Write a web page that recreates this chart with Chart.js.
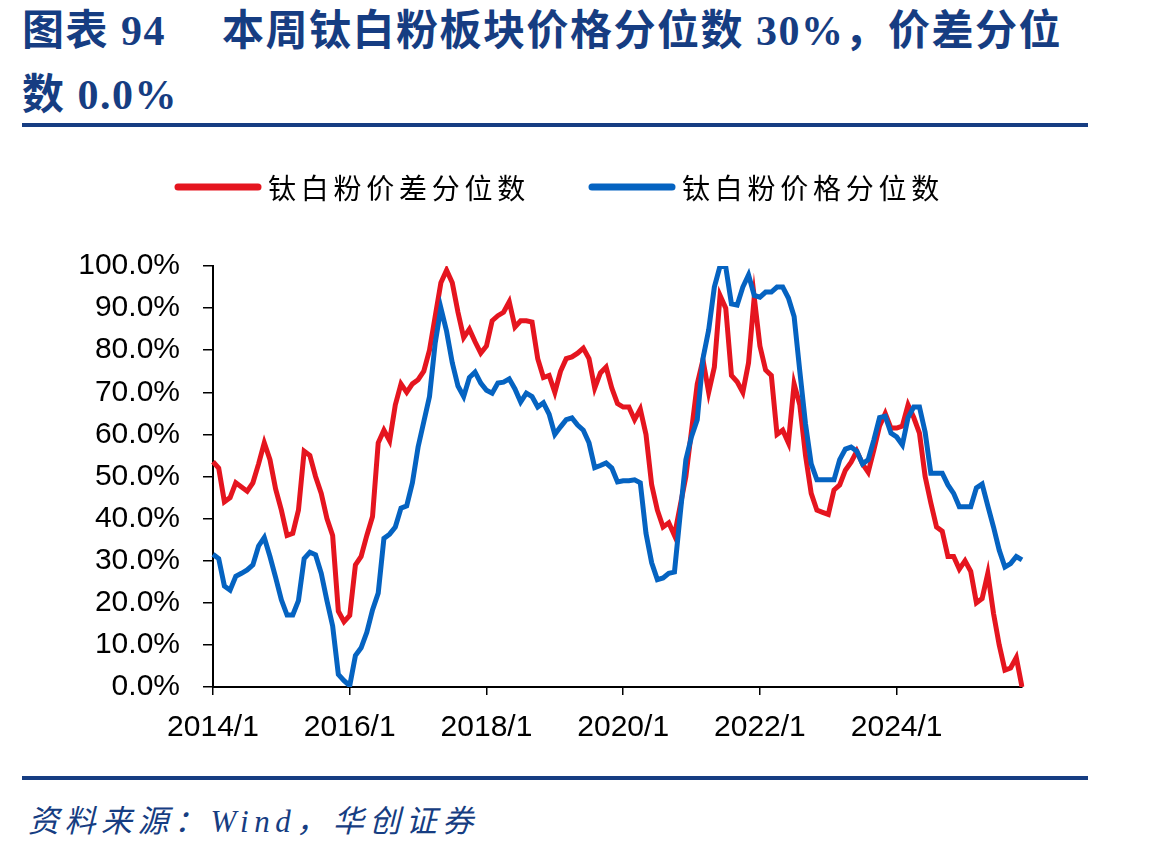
<!DOCTYPE html>
<html>
<head>
<meta charset="utf-8">
<script src="https://cdn.jsdelivr.net/npm/chart.js@4.4.1/dist/chart.umd.min.js"></script>
<style>
body{margin:0;background:#fff;width:1149px;height:855px;position:relative;overflow:hidden}
.t{position:absolute;color:#163d82;font-family:"Liberation Serif","Noto Sans CJK SC",serif;font-weight:bold;font-size:42px;line-height:42px;letter-spacing:1.5px;white-space:pre}
.rule{position:absolute;left:22px;width:1066px;height:4px;background:#163d82}
#src{position:absolute;left:28px;top:805px;color:#163d82;font-family:"Liberation Serif","Noto Sans CJK SC",serif;font-style:italic;font-size:31px;line-height:34px;letter-spacing:5.5px;white-space:pre}
#wrap{position:absolute;left:0;top:140px;width:1149px;height:630px}
</style>
</head>
<body>
<div class="t" style="left:22px;top:10px">图表 94</div>
<div class="t" style="left:222px;top:10px">本周钛白粉板块价格分位数 30%，价差分位</div>
<div class="t" style="left:22px;top:74px">数 0.0%</div>
<div class="rule" style="top:123px"></div>
<div id="wrap"><canvas id="chart" width="1149" height="630"></canvas></div>
<div class="rule" style="top:776px"></div>
<div id="src">资料来源：Wind，华创证券</div>
<script>
"use strict"

// monthly, 2014/1 .. 2025/11
var spreadPct = [
    53.5, 52, 44, 45, 48.5, 47.5, 46.5, 48.5, 53, 58, 54, 47,
    42, 36, 36.5, 42, 56, 55, 50, 46, 40, 36, 18, 15.5,
    17, 29, 31, 36, 40.5, 58, 61, 58.5, 67, 72, 70, 72,
    73, 75, 80, 88, 96, 99, 96, 89, 83, 85, 82, 79.3,
    81, 87, 88.2, 89, 91.5, 85.5, 87, 87, 86.7, 78, 73.5, 74,
    70, 75, 78, 78.4, 79.3, 80.5, 78, 71, 74.6, 76, 71, 67.3,
    66.5, 66.5, 63.5, 66, 60, 48, 42, 38, 39, 36, 43, 50,
    61, 72, 77.7, 70, 76, 93, 90, 74, 72.5, 70, 77, 92.6,
    81, 75.3, 74, 60, 61, 58, 72, 67, 55, 46, 42, 41.5,
    41, 46.8, 48, 51.5, 53.4, 56, 53, 51, 56.3, 62, 65, 61.5,
    61.5, 62, 67, 64, 60.3, 50, 43.7, 38, 37, 31, 31, 28,
    30, 27.5, 20, 21, 27, 17.5, 10, 4, 4.5, 7, 0
];

var pricePct = [
    31.5, 30.5, 24, 23, 26.3, 27, 27.8, 29, 33.5, 35.5, 31, 26,
    20.7, 17.1, 17.1, 20.5, 30.5, 32, 31.4, 27, 20.5, 14.5, 3, 1.5,
    0.3, 7.5, 9.3, 13, 18.3, 22.3, 35.3, 36.3, 38, 42.5, 43, 48.5,
    57, 63, 69, 81.7, 90, 84.5, 77, 71.5, 69, 73.5, 74.8, 72.2,
    70.5, 69.8, 72.2, 72.4, 73.2, 70.8, 67.7, 69.8, 69, 66.5, 67.5, 64.8,
    60, 61.8, 63.5, 63.9, 62.2, 61, 58, 52.1, 52.6, 53.2, 52, 48.7,
    49, 49, 49.2, 48.5, 36.5, 29.5, 25.5, 25.9, 27, 27.3, 41, 54,
    59.5, 63.5, 78, 84.8, 95, 100, 99.8, 91, 90.7, 95, 97.9, 93,
    92.6, 93.8, 93.8, 95, 95, 92.4, 88, 75, 62.5, 53, 49.2, 49.2,
    49.2, 49.2, 54, 56.5, 57, 56, 53, 54, 58.7, 64, 64.3, 60.3,
    59.4, 57.5, 64, 66.5, 66.5, 60.5, 50.8, 50.8, 50.8, 48, 46, 42.8,
    42.8, 42.8, 47.3, 48.2, 43, 38, 32.5, 28.5, 29.3, 31, 30.2
];

var tickLabels = ["2014/1", "2016/1", "2018/1", "2020/1", "2022/1", "2024/1"];
var seriesNames = ["钛白粉价差分位数", "钛白粉价格分位数"];
var seriesColors = ["#E5151F", "#0563C1"];

function monthLabels(startYear, count){
    var arr = [];
    for(var i = 0; i < count; i++){
        arr.push((startYear + Math.floor(i / 12)) + "/" + (i % 12 + 1));
    }
    return arr;
}

var labels = monthLabels(2014, spreadPct.length);

//legend drawn on canvas: line sample + spaced characters
var lineLegend = {
    id: "lineLegend",
    afterDraw: function(chart){
        var ctx = chart.ctx;
        var starts = [178, 592];
        ctx.save();
        ctx.font = '28px "Noto Sans CJK SC"';
        ctx.textBaseline = "middle";
        ctx.textAlign = "left";
        chart.data.datasets.forEach(function(ds, i){
            var x = starts[i];
            ctx.strokeStyle = ds.borderColor;
            ctx.lineWidth = 7;
            ctx.lineCap = "round";
            ctx.beginPath();
            ctx.moveTo(x, 47);
            ctx.lineTo(x + 80, 47);
            ctx.stroke();
            ctx.fillStyle = "#000";
            for(var k = 0; k < ds.label.length; k++){
                ctx.fillText(ds.label[k], x + 90 + k * 32.75, 48);
            }
        });
        ctx.restore();
    }
};

var tickFont = {family: "'Liberation Sans', Arial", size: 30};

new Chart(document.getElementById("chart"), {
    type: "line",
    data: {
        labels: labels,
        datasets: [{
            label: seriesNames[0],
            data: spreadPct,
            borderColor: seriesColors[0],
            borderWidth: 5,
            pointRadius: 0,
            tension: 0,
            order: 2
        }, {
            label: seriesNames[1],
            data: pricePct,
            borderColor: seriesColors[1],
            borderWidth: 5,
            pointRadius: 0,
            tension: 0,
            order: 1
        }]
    },
    options: {
        responsive: false,
        animation: false,
        devicePixelRatio: 1,
        layout: {padding: {left: 0, right: 127, top: 126, bottom: 0}},
        plugins: {legend: {display: false}, tooltip: {enabled: false}},
        scales: {
            x: {
                ticks: {
                    autoSkip: false,
                    maxRotation: 0,
                    minRotation: 0,
                    padding: 15,
                    color: "#000",
                    font: tickFont,
                    callback: function(val){
                        var l = this.getLabelForValue(val);
                        return tickLabels.includes(l) ? l : "";
                    }
                },
                grid: {
                    drawOnChartArea: false,
                    tickLength: 8,
                    lineWidth: 1.5,
                    color: function(c){
                        return tickLabels.includes(labels[c.index]) ? "#000" : "rgba(0,0,0,0)";
                    }
                },
                border: {color: "#000", width: 2},
                afterFit: function(s){ s.height = 83; }
            },
            y: {
                min: 0,
                max: 100,
                ticks: {
                    stepSize: 10,
                    padding: 23,
                    color: "#000",
                    font: tickFont,
                    callback: function(v){ return v.toFixed(1) + "%"; }
                },
                grid: {drawOnChartArea: false, tickLength: 10, lineWidth: 1.5, color: "#000"},
                border: {color: "#000", width: 2},
                afterFit: function(s){ s.width = 213; }
            }
        }
    },
    plugins: [lineLegend]
});
</script>
</body>
</html>
